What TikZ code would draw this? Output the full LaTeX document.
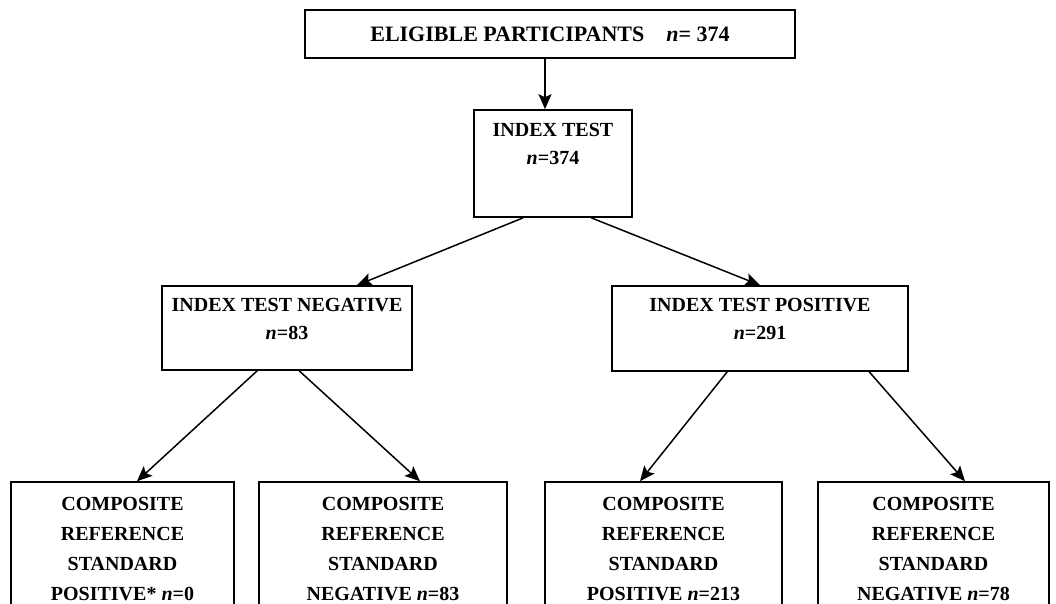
\documentclass[tikz,border=0pt]{standalone}
\usepackage{fontspec}
\setmainfont{Liberation Serif}
\usetikzlibrary{positioning, arrows.meta, calc}
\tikzset{x=1pt, y=-1pt, >={Stealth[length=15pt, width=13pt, inset=3pt]}, every node/.style={font=\fontsize{20}{28}\selectfont\bfseries}}
\tikzstyle{box}=[draw, line width=1.6pt, inner sep=0pt]
\tikzstyle{boxtext}=[anchor=north, align=center, inner sep=0pt]
\tikzstyle{tallText}=[boxtext, font=\fontsize{20}{30}\selectfont\bfseries]
\tikzstyle{link}=[->, line width=1.5pt]

\begin{document}
\begin{tikzpicture}
\useasboundingbox (0, 0) rectangle (1056, 603);
\clip (0, 0) rectangle (1056, 603);
% boxes
\node[box, minimum width=490pt, minimum height=48pt, font=\fontsize{22}{28}\selectfont\bfseries] (eligible) at (550, 34) {ELIGIBLE PARTICIPANTS\quad\textit{n}= 374};
\node[box, minimum width=158pt, minimum height=107pt] (index) at (553, 163.5) {};
\node[boxtext] (index-text) at ($(index.north)+(0, 14)$) {INDEX TEST\\\textit{n}=374};
\node[box, minimum width=250pt, minimum height=84pt] (neg) at (287, 328) {};
\node[boxtext] (neg-text) at ($(neg.north)+(0, 13)$) {INDEX TEST NEGATIVE\\\textit{n}=83};
\node[box, minimum width=296pt, minimum height=85pt] (pos) at (760, 328.5) {};
\node[boxtext] (pos-text) at ($(pos.north)+(0, 13)$) {INDEX TEST POSITIVE\\\textit{n}=291};
\node[box, minimum width=223pt, minimum height=138pt] (negPos) at (122.5, 551) {};
\node[tallText] (negPos-text) at ($(negPos.north)+(0, 16)$) {COMPOSITE\\REFERENCE\\STANDARD\\POSITIVE* \textit{n}=0};
\node[box, minimum width=248pt, minimum height=138pt] (negNeg) at (383, 551) {};
\node[tallText] (negNeg-text) at ($(negNeg.north)+(0, 16)$) {COMPOSITE\\REFERENCE\\STANDARD\\NEGATIVE \textit{n}=83};
\node[box, minimum width=237pt, minimum height=138pt] (posPos) at (663.5, 551) {};
\node[tallText] (posPos-text) at ($(posPos.north)+(0, 16)$) {COMPOSITE\\REFERENCE\\STANDARD\\POSITIVE \textit{n}=213};
\node[box, minimum width=231pt, minimum height=138pt] (posNeg) at (933.5, 551) {};
\node[tallText] (posNeg-text) at ($(posNeg.north)+(0, 16)$) {COMPOSITE\\REFERENCE\\STANDARD\\NEGATIVE \textit{n}=78};
% arrows
\draw[link] ($(eligible.south)+(-5, 0)$) coordinate (eligibleOut) -- (eligibleOut |- index.north);
\draw[link] ($(index.south west)+(50, 0)$) -- ($(neg.north)+(70, 0)$);
\draw[link] ($(index.south west)+(118, 0)$) -- (pos.north);
\draw[link] ($(neg.south west)+(96, 0)$) -- ($(negPos.north)+(14.5, 0)$);
\draw[link] ($(neg.south west)+(138, 0)$) -- ($(negNeg.north)+(37, 0)$);
\draw[link] ($(pos.south west)+(116, 0)$) -- ($(posPos.north)+(-23.5, 0)$);
\draw[link] ($(pos.south west)+(258, 0)$) -- ($(posNeg.north)+(31.5, 0)$);
\end{tikzpicture}
\end{document}
